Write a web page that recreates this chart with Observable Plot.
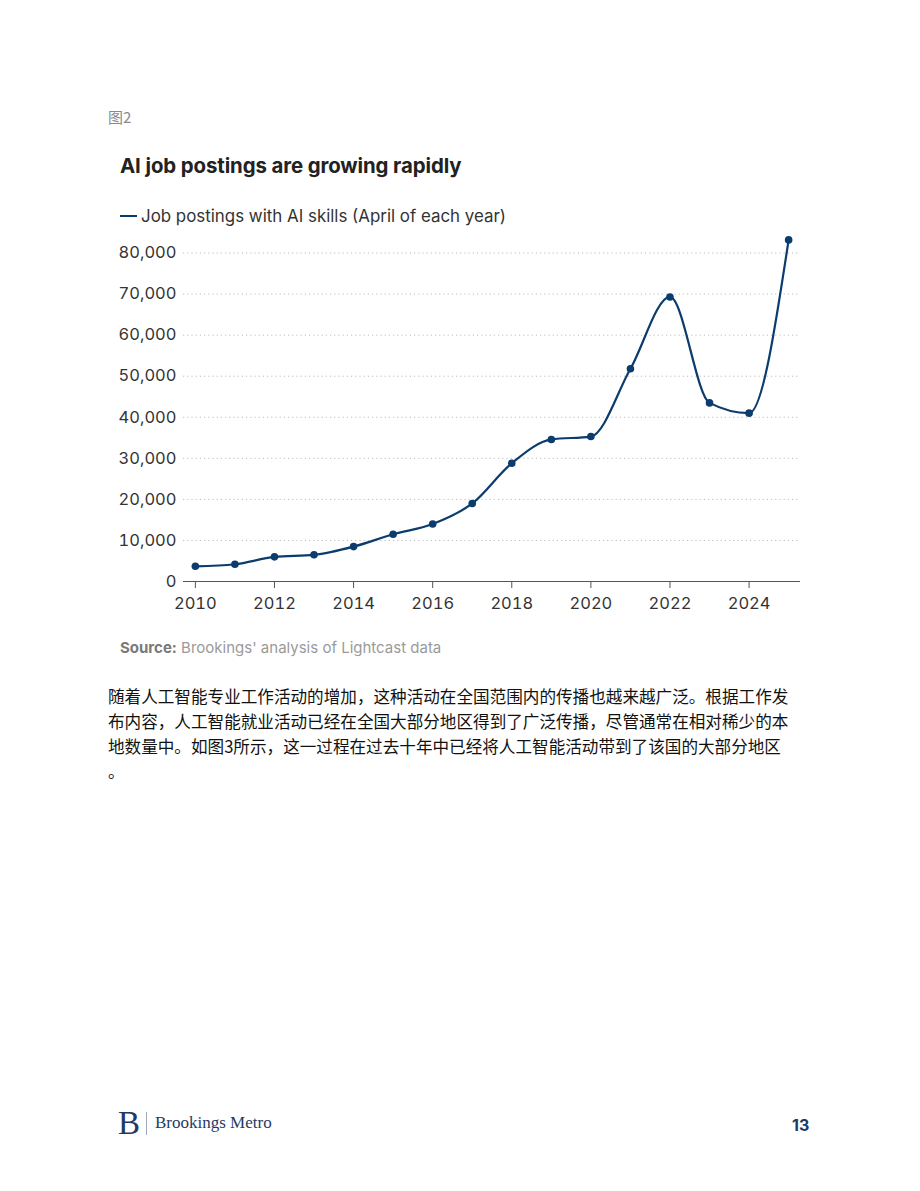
<!DOCTYPE html>
<html>
<head>
<meta charset="utf-8">
<script src="https://cdn.jsdelivr.net/npm/d3@7"></script>
<script src="https://cdn.jsdelivr.net/npm/@observablehq/plot@0.6"></script>
<style>
  html, body { margin: 0; padding: 0; background: #fff; }
  body { width: 920px; height: 1191px; position: relative; font-family: Inter, "Noto Sans", sans-serif; }
  .abs { position: absolute; white-space: nowrap; }
  #fig { left: 108px; top: 106px; font-family: "Noto Sans CJK SC", sans-serif; font-size: 15px; color: #8a8a8a; }
  #title { left: 120px; top: 153px; font-size: 20.4px; font-weight: 700; color: #222; letter-spacing: -0.1px; }
  #legend { left: 120px; top: 206px; font-size: 16.9px; color: #333; display: flex; align-items: center; }
  #legend .sw { width: 17px; height: 2.5px; background: #0b3c6d; margin-right: 4px; }
  #chart { left: 100px; top: 225px; }
  #source { left: 120px; top: 638px; font-size: 15px; color: #9a9a9a; }
  #source b { color: #7a7a7a; font-weight: 700; }
  #para { left: 108px; top: 684px; font-family: "Noto Sans CJK SC", sans-serif; font-size: 16.6px; line-height: 25px; color: #111; }
  #logo { left: 118px; top: 1106px; font-family: "Liberation Serif", "DejaVu Serif", serif; color: #1f3a64; display: flex; align-items: center; }
  #logo .big { font-size: 33px; line-height: 34px; }
  #logo .bar { width: 1px; height: 23px; background: #a0a9b8; margin: 0 8px 0 6px; }
  #logo .name { font-size: 17px; }
  #page { left: 792px; top: 1115px; font-size: 16px; font-weight: 700; color: #1d3a63; }
</style>
</head>
<body>
<div id="fig" class="abs">图2</div>
<div id="title" class="abs">AI job postings are growing rapidly</div>
<div id="legend" class="abs"><span class="sw"></span><span>Job postings with AI skills (April of each year)</span></div>
<div id="chart" class="abs"></div>
<div id="source" class="abs"><b>Source:</b> Brookings' analysis of Lightcast data</div>
<div id="para" class="abs"></div>
<div id="logo" class="abs"><span class="big">B</span><span class="bar"></span><span class="name">Brookings Metro</span></div>
<div id="page" class="abs">13</div>
<script>
// AI job postings, April of each year
const years = [2010, 2011, 2012, 2013, 2014, 2015, 2016, 2017, 2018, 2019, 2020, 2021, 2022, 2023, 2024, 2025];
const postings = [3700, 4200, 6000, 6500, 8500, 11500, 14000, 19000, 28800, 34600, 35300, 51800, 69300, 43500, 41000, 83200];
const yTicks = [0, 10000, 20000, 30000, 40000, 50000, 60000, 70000, 80000];
const xTicks = [2010, 2012, 2014, 2016, 2018, 2020, 2022, 2024];
const paragraphLines = [
  "随着人工智能专业工作活动的增加，这种活动在全国范围内的传播也越来越广泛。根据工作发",
  "布内容，人工智能就业活动已经在全国大部分地区得到了广泛传播，尽管通常在相对稀少的本",
  "地数量中。如图3所示，这一过程在过去十年中已经将人工智能活动带到了该国的大部分地区",
  "。"
];

const data = years.map((year, i) => ({year, value: postings[i]}));
const navy = "#0b3c6d";

const chart = Plot.plot({
  width: 720,
  height: 396,
  marginLeft: 83,
  marginRight: 20,
  marginTop: 7,
  marginBottom: 40,
  style: {fontFamily: "Inter, sans-serif", fontSize: "16px", color: "#333", background: "transparent", overflow: "visible"},
  x: {domain: [2009.7, 2025.3], label: null},
  y: {domain: [0, 85000], label: null},
  marks: [
    Plot.gridY(yTicks, {stroke: "#bdbdbd", strokeOpacity: 1, strokeDasharray: "1.2,3", strokeWidth: 1}),
    Plot.axisY({ticks: yTicks, tickFormat: d3.format(","), tickSize: 0, tickPadding: 7, fontSize: 16.5, fill: "#333"}),
    Plot.axisX({ticks: xTicks, tickFormat: d => String(d), tickSize: 7, tickPadding: 9, fontSize: 16.5, fill: "#333", stroke: "#555"}),
    Plot.ruleY([0], {stroke: "#555", strokeWidth: 1.2}),
    Plot.line(data, {x: "year", y: "value", stroke: navy, strokeWidth: 2.2, curve: "monotone-x"}),
    Plot.dot(data, {x: "year", y: "value", fill: navy, r: 3.8})
  ]
});
document.getElementById("chart").appendChild(chart);

const para = document.getElementById("para");
paragraphLines.forEach(t => {
  const d = document.createElement("div");
  d.textContent = t;
  para.appendChild(d);
});
</script>
</body>
</html>
